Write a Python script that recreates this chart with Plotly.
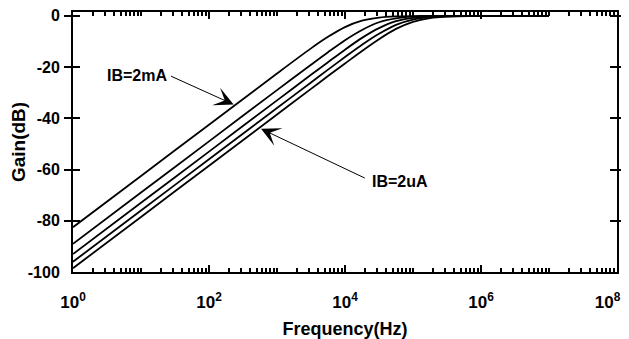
import plotly.graph_objects as go

# Frequency samples (Hz)
freq = [1, 10, 100, 1000, 3162, 5623, 10000, 17783, 31623, 56234,
        100000, 177828, 316228, 1000000, 10000000]

# Gain (dB) of the five curves, top (IB=2mA) to bottom (IB=2uA)
gain_1 = [-82.5, -62.5, -42.5, -22.5, -12.7, -8.2, -4.4, -1.9, -0.7, -0.24,
          -0.08, -0.02, -0.01, 0.0, 0.0]
gain_2 = [-89.0, -69.0, -49.0, -29.0, -19.1, -14.2, -9.5, -5.5, -2.5, -0.97,
          -0.33, -0.11, -0.03, 0.0, 0.0]
gain_3 = [-93.0, -73.0, -53.0, -33.0, -23.0, -18.1, -13.2, -8.6, -4.8, -2.1,
          -0.79, -0.27, -0.09, -0.01, 0.0]
gain_4 = [-96.0, -76.0, -56.0, -36.0, -26.0, -21.0, -16.1, -11.3, -7.0, -3.5,
          -1.46, -0.52, -0.17, -0.02, 0.0]
gain_5 = [-98.5, -78.5, -58.5, -38.5, -28.5, -23.5, -18.6, -13.7, -9.1, -5.1,
          -2.32, -0.88, -0.30, -0.03, 0.0]

series = [gain_1, gain_2, gain_3, gain_4, gain_5]

x_tickvals = [1, 100, 1e4, 1e6, 1e8]
x_ticktext = ["10<sup>0</sup>", "10<sup>2</sup>", "10<sup>4</sup>", "10<sup>6</sup>",
              "10<sup>8</sup>\u00a0\u00a0\u00a0\u00a0"]
y_tickvals = [0, -20, -40, -60, -80, -100]
y_ticktext = ["0", "-20", "-40", "-60", "-80", "-100"]

fig = go.Figure()
for g in series:
    fig.add_trace(go.Scatter(x=freq, y=g, mode="lines",
                             line=dict(color="black", width=1.8, shape="spline", smoothing=0.8),
                             showlegend=False, hoverinfo="skip"))

# invisible trace to carry the minor-tick overlay axis
fig.add_trace(go.Scatter(x=[freq[0]], y=[gain_1[0]], xaxis="x2", mode="markers",
                         marker=dict(opacity=0), showlegend=False, hoverinfo="skip"))

font_b = "Liberation Sans, Arial, sans-serif"

fig.update_layout(
    xaxis=dict(
        type="log", range=[0, 8], automargin=False,
        tickmode="array", tickvals=x_tickvals, ticktext=x_ticktext,
        ticks="inside", ticklen=7, tickwidth=2, tickcolor="black",
        showline=True, linewidth=2, linecolor="black", mirror="allticks",
        showgrid=False, zeroline=False, ticklabeloverflow="allow",
        tickfont=dict(family=font_b, size=17, color="black", weight="bold"),
        ticklabelstandoff=14,
        title=dict(text="<b>Frequency(Hz)</b>", font=dict(family=font_b, size=18, color="black"), standoff=13),
    ),
    xaxis2=dict(
        type="log", range=[0, 8], overlaying="x", anchor="y", side="bottom", automargin=False,
        tickmode="linear", dtick="D1",
        ticks="inside", ticklen=4, tickwidth=1.5, tickcolor="black",
        showticklabels=False, showline=True, linewidth=2, linecolor="black", mirror="allticks",
        showgrid=False, zeroline=False,
    ),
    yaxis=dict(
        range=[-100, 1.5], automargin=False,
        tickmode="array", tickvals=y_tickvals, ticktext=y_ticktext,
        ticks="inside", ticklen=7, tickwidth=2, tickcolor="black",
        showline=True, linewidth=2, linecolor="black", mirror="allticks",
        showgrid=False, zeroline=False, ticklabeloverflow="allow",
        tickfont=dict(family=font_b, size=16, color="black", weight="bold"),
        ticklabelstandoff=8,
        title=dict(text="<b>Gain(dB)</b>", font=dict(family=font_b, size=19, color="black"), standoff=10),
    ),
)

# arrows (tail -> tip), positions in axis units (log10 for x)
arrow_specs = [
    (1.42, -23.3, 2.362, -34.6),
    (4.313, -63.6, 2.765, -44.1),
]
for ax_, ay_, x_, y_ in arrow_specs:
    fig.add_annotation(x=x_, y=y_, ax=ax_, ay=ay_, xref="x", yref="y", axref="x", ayref="y",
                       text="", showarrow=True, arrowhead=3, arrowsize=3.2, arrowwidth=1,
                       arrowcolor="black", standoff=0, startstandoff=0)

fig.add_annotation(x=0.941, y=-23.3, xref="x", yref="y", text="<b>IB=2mA</b>", showarrow=False,
                   font=dict(family=font_b, size=16, color="black"))
fig.add_annotation(x=4.806, y=-64.6, xref="x", yref="y", text="<b>IB=2uA</b>", showarrow=False,
                   font=dict(family=font_b, size=16, color="black"))

# page body adds an 8px offset, so the figure is sized/margined to compensate
fig.update_layout(
    width=621, height=331,
    margin=dict(l=65, r=12, t=4, b=67),
    paper_bgcolor="white", plot_bgcolor="white",
)

fig.write_html("out.html")
